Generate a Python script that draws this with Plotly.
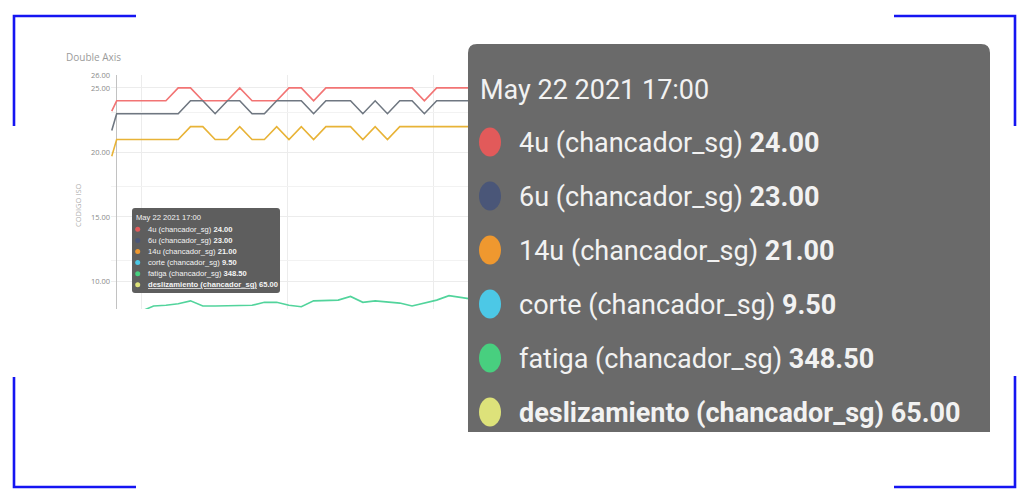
import plotly.graph_objects as go

W, H = 1024, 504

# hour index of each sample (first sample is a partial one just before 17:00)
hours = [-0.4] + list(range(30))

s4u = [23.2, 24, 24, 24, 24, 24, 25, 25, 24, 24, 24, 25, 24, 24, 24, 25,
       25, 24, 25, 25, 25, 25, 25, 25, 25, 25, 24, 25, 25, 25, 25]
s6u = [21.7, 23, 23, 23, 23, 23, 23, 24, 24, 23, 24, 24, 23, 23, 24, 24,
       24, 23, 24, 24, 24, 23, 24, 23, 24, 24, 23, 24, 24, 24, 24]
s14u = [19.7, 21, 21, 21, 21, 21, 21, 22, 22, 21, 21, 22, 21, 21, 22, 21,
        22, 21, 22, 22, 22, 21, 22, 21, 22, 22, 22, 22, 22, 22, 22]
fatiga = [348.4, 348.5, 348.7, 349.2, 349.9, 350.0, 350.2, 350.6, 349.9, 349.9, 349.9,
          350.0, 350.0, 350.4, 350.4, 350.0, 349.8, 350.6, 350.6, 350.7, 351.2,
          350.4, 350.6, 350.4, 350.3, 349.9, 350.3, 350.7, 351.3, 351.0, 350.8]
corteNow = 9.50
deslizamientoNow = 65.00

hoverTime = "May 22 2021 17:00"
seriesNames = ["4u", "6u", "14u", "corte", "fatiga", "deslizamiento"]
markerColors = ["#e25a5a", "#4a5678", "#ef982f", "#4cc8e6", "#48cf7f", "#dde27a"]
lineColors = {"4u": "#f27474", "6u": "#6f7781", "14u": "#e8b337", "fatiga": "#52d49c"}

primaryTicks = [10, 15, 20, 25, 26]
secondaryTicks = [356, 366, 376]
verticalGrid = [2, 13.85, 25.7]


def fx(p):
    return p / W


def fy(p):
    return 1 - p / H


def path(points, close=False):
    out = ""
    for cmd, coords in points:
        out += cmd + " " + " ".join(
            f"{fx(coords[j]):.5f},{fy(coords[j + 1]):.5f}" for j in range(0, len(coords), 2)) + " "
    return out + ("Z" if close else "")


def rounded_box(x0, y0, x1, y1, r, bottomRound=True):
    pts = [("M", (x0, y1 - (r if bottomRound else 0))),
           ("L", (x0, y0 + r)), ("Q", (x0, y0, x0 + r, y0)),
           ("L", (x1 - r, y0)), ("Q", (x1, y0, x1, y0 + r))]
    if bottomRound:
        pts += [("L", (x1, y1 - r)), ("Q", (x1, y1, x1 - r, y1)),
                ("L", (x0 + r, y1)), ("Q", (x0, y1, x0, y1 - r))]
    else:
        pts += [("L", (x1, y1))]
    return path(pts, close=True)


fig = go.Figure()
for name, values in [("4u", s4u), ("6u", s6u), ("14u", s14u)]:
    fig.add_trace(go.Scatter(x=hours, y=values, mode="lines", name=name, hoverinfo="skip",
                             line=dict(color=lineColors[name], width=1.6)))
fig.add_trace(go.Scatter(x=hours, y=fatiga, mode="lines", name="fatiga", yaxis="y2", hoverinfo="skip",
                         line=dict(color=lineColors["fatiga"], width=1.6)))

# values shown in the tooltip are the ones at 17:00
i0 = hours.index(0)
tooltipValues = [s4u[i0], s6u[i0], s14u[i0], corteNow, fatiga[i0], deslizamientoNow]

shapes = []
annotations = []

# corner brackets
blue = dict(color="#1515f2", width=2.6)
for pts in [[(136, 16), (14, 16), (14, 126)], [(894, 16), (1015, 16), (1015, 126)],
            [(14, 377), (14, 487), (136, 487)], [(1015, 376), (1015, 487), (894, 487)]]:
    shapes.append(dict(type="path", xref="paper", yref="paper", line=blue,
                       path=path([("M", pts[0]), ("L", pts[1]), ("L", pts[2])])))

# small tooltip
shapes.append(dict(type="path", xref="paper", yref="paper", fillcolor="#5e5e5e", line=dict(width=0),
                   path=rounded_box(132, 208, 280, 293, 3)))
smallFont = "Liberation Sans, Arial, sans-serif"
annotations.append(dict(x=fx(134), y=fy(217.5), text=hoverTime, font=dict(size=7.6, color="#f4f4f4", family=smallFont)))
for k, name in enumerate(seriesNames):
    yc = 229.3 + k * 11.1
    shapes.append(dict(type="circle", xref="paper", yref="paper", fillcolor=markerColors[k], line=dict(width=0),
                       x0=fx(135.2), x1=fx(140.2), y0=fy(yc - 2.5), y1=fy(yc + 2.5)))
    label = f"{name} (chancador_sg)"
    if name == "deslizamiento":
        text = f"<b><span style='text-decoration:underline'>{label}</span> {tooltipValues[k]:.2f}</b>"
    else:
        text = f"{label} <b>{tooltipValues[k]:.2f}</b>"
    annotations.append(dict(x=fx(145.5), y=fy(yc), text=text, font=dict(size=7.6, color="#f4f4f4", family=smallFont)))

# zoomed tooltip
shapes.append(dict(type="path", xref="paper", yref="paper", fillcolor="#6a6a6a", line=dict(width=0),
                   path=rounded_box(468, 44, 990, 432, 9, bottomRound=False)))
bigFont = "Roboto, Liberation Sans, sans-serif"
annotations.append(dict(x=fx(478), y=fy(90), text=hoverTime, font=dict(size=27, color="#f2f2f2", family=bigFont)))
for k, name in enumerate(seriesNames):
    yc = 142 + k * 54
    shapes.append(dict(type="circle", xref="paper", yref="paper", fillcolor=markerColors[k], line=dict(width=0),
                       x0=fx(479), x1=fx(501), y0=fy(yc - 14.5), y1=fy(yc + 14.5)))
    label = f"{name} (chancador_sg)"
    if name == "deslizamiento":
        text = f"<b>{label} {tooltipValues[k]:.2f}</b>"
    else:
        text = f"{label} <b>{tooltipValues[k]:.2f}</b>"
    annotations.append(dict(x=fx(517), y=fy(yc + 1), text=text, font=dict(size=27, color="#f2f2f2", family=bigFont)))

# chart title and axis title
annotations.append(dict(x=fx(64), y=fy(57), text="Double Axis", font=dict(size=10, color="#9b9b9b", family="Open Sans")))
annotations.append(dict(x=fx(78), y=fy(205), text="CODIGO ISO", textangle=-90, xanchor="center",
                        font=dict(size=7.5, color="#b2b2b2", family="Open Sans")))

for a in annotations:
    a.setdefault("xref", "paper")
    a.setdefault("yref", "paper")
    a.setdefault("showarrow", False)
    a.setdefault("xanchor", "left")
    a.setdefault("yanchor", "middle")

fig.update_layout(
    width=W, height=H, margin=dict(l=0, r=0, t=0, b=0),
    paper_bgcolor="white", plot_bgcolor="white", showlegend=False,
    xaxis=dict(domain=[fx(111), fx(481)], range=[-0.46, 29.6], tickvals=verticalGrid, showticklabels=False,
               gridcolor="#ececec", zeroline=True, zerolinecolor="#c2c2c2", zerolinewidth=1, showline=False),
    yaxis=dict(domain=[fy(309), fy(75)], range=[7.86, 26], tickvals=primaryTicks, tickformat=".2f",
               tickfont=dict(size=7.5, color="#8a8a8a", family="Open Sans"), gridcolor="#ececec",
               zeroline=False, showline=False, automargin=False),
    yaxis2=dict(overlaying="y", side="right", range=[349.5, 381.1], tickvals=secondaryTicks,
                showticklabels=False, gridcolor="#f2f2f2", zeroline=False, showline=False),
    shapes=shapes, annotations=annotations,
)

fig.write_html("out.html", config={"displayModeBar": False},
               post_script="document.body.style.margin='0';")
